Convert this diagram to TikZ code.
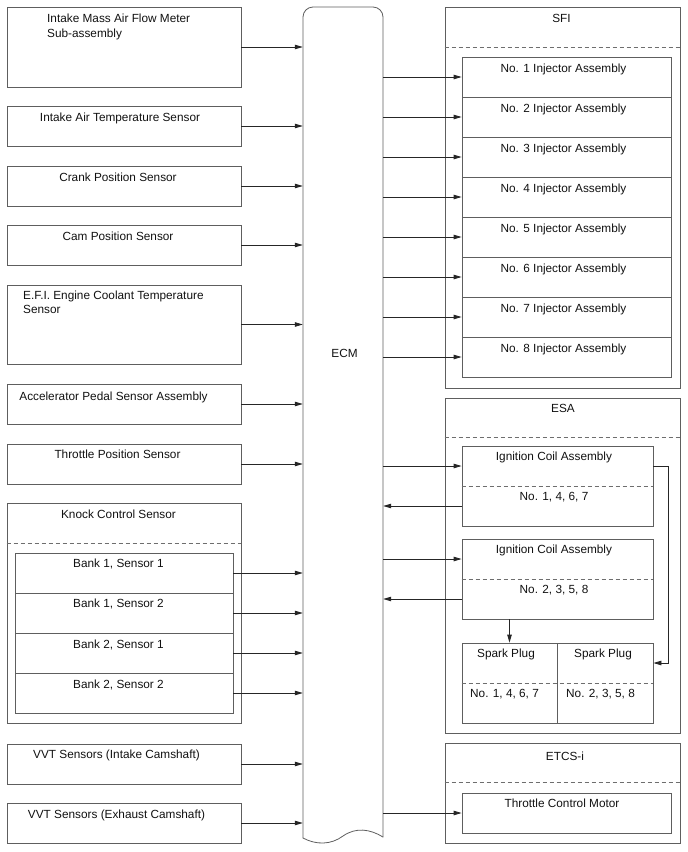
\documentclass[tikz,border=0pt]{standalone}
\usepackage{fontspec}
\setmainfont{Liberation Sans}
\usetikzlibrary{arrows.meta}
\definecolor{linec}{HTML}{5E5E5E}
\definecolor{arrc}{HTML}{262626}
\definecolor{dashc}{HTML}{6E6E6E}
\definecolor{textc}{HTML}{111111}
\tikzset{
  bx/.style 2 args={draw=linec, line width=0.8pt, inner sep=0pt, minimum width=#1, minimum height=#2},
  txt/.style={anchor=base, inner sep=0pt, text=textc, font=\fontsize{11.8}{14}\selectfont},
  mtxt/.style={anchor=north west, inner sep=0pt, align=left, text=textc},
  arr/.style={draw=arrc, line width=0.8pt, -{Triangle[length=8pt,width=4.5pt]}},
  dline/.style={draw=dashc, line width=0.8pt, dash pattern=on 4pt off 3pt},
}
\begin{document}
\begin{tikzpicture}[x=1pt,y=-1pt]
\useasboundingbox (0,0) rectangle (688,852);

% ---------- left column ----------
\node[bx={234}{80}] (mass) at (124,47) {};
\node[bx={234}{40}] (iat) at (124,126) {};
\node[bx={234}{40}] (crank) at (124,186) {};
\node[bx={234}{40}] (cam) at (124,245) {};
\node[bx={234}{79}] (ect) at (124,324.5) {};
\node[bx={234}{40}] (acc) at (124,404) {};
\node[bx={234}{40}] (tps) at (124,464) {};
\node[bx={234}{220}] (knock) at (124,613) {};
\node[bx={218}{40}] (k1) at (124,573) {};
\node[bx={218}{40}] (k2) at (124,613) {};
\node[bx={218}{40}] (k3) at (124,653) {};
\node[bx={218}{40}] (k4) at (124,693) {};
\node[bx={234}{40}] (vvti) at (124,764) {};
\node[bx={234}{40}] (vvte) at (124,823) {};
\draw[dline] (knock.west |- 0,543) -- (knock.east |- 0,543);

\node[mtxt, font=\fontsize{11.8}{15}\selectfont] (tmass) at (47,13.8) {Intake Mass Air Flow Meter\\Sub-assembly};
\node[txt] (tiat) at (120,121) {Intake Air Temperature Sensor};
\node[txt] (tcrank) at (118,181) {Crank Position Sensor};
\node[txt] (tcam) at (118,240) {Cam Position Sensor};
\node[mtxt, font=\fontsize{11.8}{14}\selectfont] (tect) at (23,290.8) {E.F.I. Engine Coolant Temperature\\Sensor};
\node[txt] (tacc) at (113.5,400) {Accelerator Pedal Sensor Assembly};
\node[txt] (ttps) at (117.5,458) {Throttle Position Sensor};
\node[txt] (tknock) at (118.5,518) {Knock Control Sensor};
\node[txt] (tk1) at (118.5,567) {Bank 1, Sensor 1};
\node[txt] (tk2) at (118.5,607) {Bank 1, Sensor 2};
\node[txt] (tk3) at (118.5,648) {Bank 2, Sensor 1};
\node[txt] (tk4) at (118.5,688) {Bank 2, Sensor 2};
\node[txt] (tvvti) at (116.5,758) {VVT Sensors (Intake Camshaft)};
\node[txt] (tvvte) at (116.5,818) {VVT Sensors (Exhaust Camshaft)};

% ---------- ECM ----------
\node[inner sep=0pt, minimum width=80, minimum height=831] (ecm) at (343,422.5) {};
\draw[draw=linec, line width=0.8pt, rounded corners=10pt, line cap=round] (303,838) -- (303,7) -- (383,7) -- (383,837);
\draw[draw=linec, line width=0.8pt, line cap=round] (383,837) .. controls (370,829) and (356,827) .. (343,836) .. controls (331,845) and (316,845) .. (303,838);
\node[txt] (tecm) at (344.5,357) {ECM};

% ---------- SFI ----------
\node[bx={235}{381}] (sfi) at (562.5,197.5) {};
\draw[dline] (sfi.west |- 0,47) -- (sfi.east |- 0,47);
\node[txt] (tsfi) at (561.5,22) {SFI};
\foreach \i in {1,...,8} {
  \node[bx={209}{40}] (inj\i) at (566.5,37+40*\i) {};
  \node[txt] (tinj\i) at (563.5,32+40*\i) {No. \i\ Injector Assembly};
  \draw[arr] (ecm.east |- inj\i.west) -- (inj\i.west);
}

% ---------- ESA ----------
\node[bx={235}{335}] (esa) at (562.5,565.5) {};
\draw[dline] (esa.west |- 0,437) -- (esa.east |- 0,437);
\node[txt] (tesa) at (563,412) {ESA};
\node[bx={191}{80}] (ic1) at (557.5,486) {};
\draw[dline] (ic1.west) -- (ic1.east);
\node[txt] (tic1a) at (554,460) {Ignition Coil Assembly};
\node[txt] (tic1b) at (554,500) {No. 1, 4, 6, 7};
\node[bx={191}{80}] (ic2) at (557.5,579) {};
\draw[dline] (ic2.west) -- (ic2.east);
\node[txt] (tic2a) at (554,553) {Ignition Coil Assembly};
\node[txt] (tic2b) at (554,593) {No. 2, 3, 5, 8};
\node[bx={95}{80}] (sp1) at (509.5,683) {};
\node[bx={96}{80}] (sp2) at (605,683) {};
\draw[dline] (sp1.west) -- (sp2.east);
\node[txt] (tsp1a) at (506,657) {Spark Plug};
\node[txt] (tsp2a) at (603,657) {Spark Plug};
\node[txt] (tsp1b) at (504.5,697) {No. 1, 4, 6, 7};
\node[txt] (tsp2b) at (600.5,697) {No. 2, 3, 5, 8};

\coordinate (ic1in) at ([yshift=20pt]ic1.west);
\coordinate (ic1out) at ([yshift=-20pt]ic1.west);
\coordinate (ic2in) at ([yshift=20pt]ic2.west);
\coordinate (ic2out) at ([yshift=-20pt]ic2.west);
\draw[arr] (ecm.east |- ic1in) -- (ic1in);
\draw[arr] (ic1out) -- (ecm.east |- ic1out);
\draw[arr] (ecm.east |- ic2in) -- (ic2in);
\draw[arr] (ic2out) -- (ecm.east |- ic2out);
\draw[arr] (sp1.north |- ic2.south) -- (sp1.north);
\draw[arr] ([yshift=20pt]ic1.east) -- ++(15,0) |- ([yshift=20pt]sp2.east);

% ---------- ETCS-i ----------
\node[bx={235}{100}] (etcs) at (562.5,793) {};
\draw[dline] (etcs.west |- 0,782.5) -- (etcs.east |- 0,782.5);
\node[txt] (tetcs) at (565,760) {ETCS-i};
\node[bx={209}{40}] (tcm) at (566.5,813) {};
\node[txt] (ttcm) at (562,807) {Throttle Control Motor};
\draw[arr] (ecm.east |- tcm.west) -- (tcm.west);

% ---------- sensor arrows ----------
\foreach \n in {mass,iat,crank,cam,ect,acc,tps,k1,k2,k3,k4,vvti,vvte}
  \draw[arr] (\n.east) -- (\n.east -| ecm.west);
\end{tikzpicture}
\end{document}
